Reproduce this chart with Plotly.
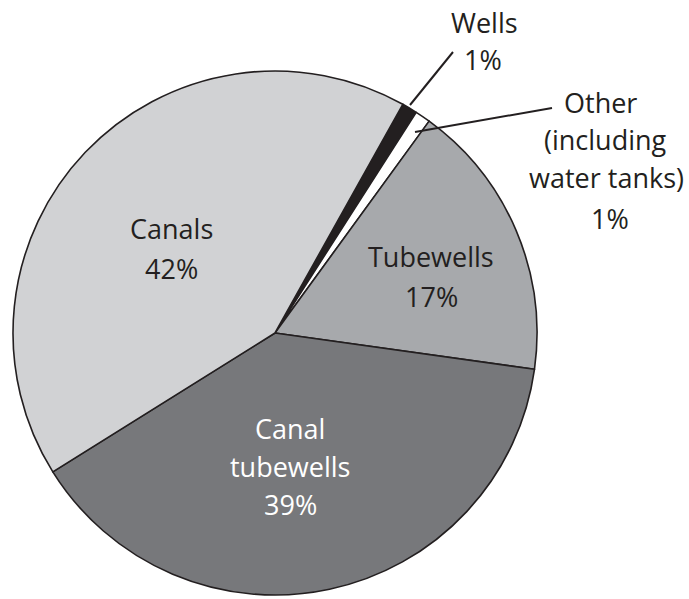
"""
Irrigation sources pie chart.
"""
import plotly.graph_objects as go

labels = ["Wells", "Other (including water tanks)", "Tubewells", "Canal tubewells", "Canals"]
values = [0.95, 0.95, 17.2, 38.9, 42.0]
colors = ["#231f20", "#ffffff", "#a7a9ac", "#77787b", "#d1d2d4"]

W, H = 689, 599
INK = "#231f20"
FONT = "Open Sans, Noto Sans, sans-serif"


def px_x(x):
    return x / W


def px_y(y):
    return 1 - y / H


fig = go.Figure(
    go.Pie(
        labels=labels,
        values=values,
        sort=False,
        direction="clockwise",
        rotation=29.2,
        marker=dict(colors=colors, line=dict(color=INK, width=1.6)),
        textinfo="none",
        hoverinfo="label+percent",
        showlegend=False,
        domain=dict(x=[px_x(13), px_x(537)], y=[px_y(595), px_y(71)]),
    )
)

# slice labels, one annotation per text line (x centre, line middle)
notes = [
    (["Canals", "42%"], [171, 171], [228, 268], INK),
    (["Tubewells", "17%"], [431, 431], [256, 296], INK),
    (["Canal", "tubewells", "39%"], [290, 290, 290], [428, 466, 504], "#ffffff"),
    (["Wells", "1%"], [484, 483], [23, 59], INK),
    (["Other", "(including", "water tanks)", "1%"], [600, 605, 606, 610],
     [103, 140, 178, 218], INK),
]
for lines, xs, ys, c in notes:
    for text, x, y in zip(lines, xs, ys):
        fig.add_annotation(
            text=text, x=px_x(x), y=px_y(y), xref="paper", yref="paper",
            showarrow=False, xanchor="center", yanchor="middle",
            font=dict(family=FONT, size=27, color=c),
        )

# leader lines
for x0, y0, x1, y1 in [(453, 52, 410, 105), (552, 108, 415, 132)]:
    fig.add_shape(
        type="line", xref="paper", yref="paper",
        x0=px_x(x0), y0=px_y(y0), x1=px_x(x1), y1=px_y(y1),
        line=dict(color=INK, width=2),
    )

fig.update_layout(
    width=W, height=H,
    margin=dict(l=0, r=0, t=0, b=0),
    paper_bgcolor="white",
    plot_bgcolor="white",
)
fig.write_html(
    "out.html",
    config={"displayModeBar": False},
    post_script="document.body.style.margin='0';",
)
